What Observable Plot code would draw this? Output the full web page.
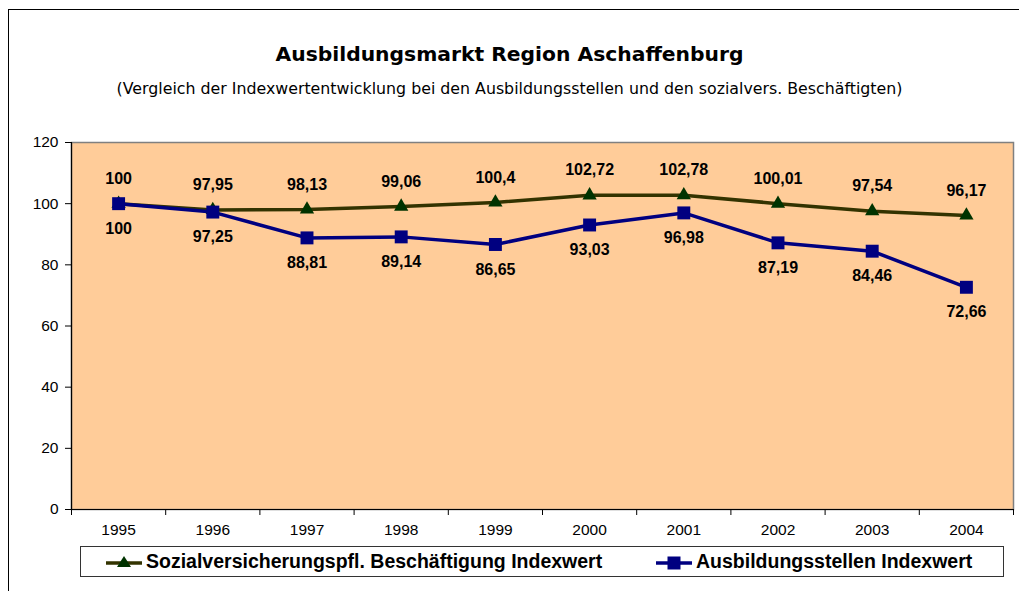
<!DOCTYPE html>
<html>
<head>
<meta charset="utf-8">
<script src="https://cdn.jsdelivr.net/npm/d3@7"></script>
<script src="https://cdn.jsdelivr.net/npm/@observablehq/plot@0.6"></script>
<style>
  html, body { margin: 0; padding: 0; background: #fff; }
  #page { position: relative; width: 1019px; height: 591px; overflow: hidden; }
  #frame { position: absolute; left: 8px; top: 9px; width: 1020px; height: 600px; border-left: 1.5px solid #000; border-top: 1.5px solid #000; }
  #title { position: absolute; left: 0; width: 1019px; top: 42px; text-align: center; font-family: "Comic Sans MS", "DejaVu Sans", sans-serif; font-weight: bold; font-size: 20.3px; color: #000; }
  #subtitle { position: absolute; left: 0; width: 1019px; top: 79px; text-align: center; font-family: "Comic Sans MS", "DejaVu Sans", sans-serif; font-size: 15.8px; color: #000; }
  #chart { position: absolute; left: 0; top: 0; }
  #legend { position: absolute; left: 80px; top: 546px; width: 922px; height: 29px; border: 1px solid #333; background: #fff; font-family: "Liberation Sans", Arial, sans-serif; font-weight: bold; font-size: 19.5px; }
  .item { position: absolute; top: 3px; display: flex; align-items: center; }
  .item svg { margin-right: 3px; }
</style>
</head>
<body>
<div id="page">
  <div id="frame"></div>
  <div id="chart"></div>
  <div id="title">Ausbildungsmarkt Region Aschaffenburg</div>
  <div id="subtitle">(Vergleich der Indexwertentwicklung bei den Ausbildungsstellen und den sozialvers. Beschäftigten)</div>
  <div id="legend">
    <div class="item" style="left:24px"><svg width="38" height="22"><line x1="1" y1="12" x2="37" y2="12" stroke="#333300" stroke-width="3.5"/><path d="M19,5 L26,16 L12,16 Z" fill="#003300"/></svg><span id="lg1"></span></div>
    <div class="item" style="left:574px"><svg width="38" height="22"><line x1="1" y1="12" x2="37" y2="12" stroke="#000080" stroke-width="3.5"/><rect x="12.5" y="5.5" width="13" height="13" fill="#000080"/></svg><span id="lg2"></span></div>
  </div>
</div>
<script>
const years = [1995, 1996, 1997, 1998, 1999, 2000, 2001, 2002, 2003, 2004];
const sozial = [100, 97.95, 98.13, 99.06, 100.4, 102.72, 102.78, 100.01, 97.54, 96.17];
const ausbildung = [100, 97.25, 88.81, 89.14, 86.65, 93.03, 96.98, 87.19, 84.46, 72.66];
const seriesNames = ["Sozialversicherungspfl. Beschäftigung Indexwert", "Ausbildungsstellen Indexwert"];
const yTicks = [0, 20, 40, 60, 80, 100, 120];
const boundaries = [1994.5, 1995.5, 1996.5, 1997.5, 1998.5, 1999.5, 2000.5, 2001.5, 2002.5, 2003.5, 2004.5];

document.getElementById("lg1").textContent = seriesNames[0];
document.getElementById("lg2").textContent = seriesNames[1];

const dataS = years.map((y, i) => ({year: y, value: sozial[i]}));
const dataA = years.map((y, i) => ({year: y, value: ausbildung[i]}));
const fmt = v => String(v).replace(".", ",");

const chart = Plot.plot({
  width: 1019,
  height: 591,
  marginLeft: 71,
  marginRight: 6,
  marginTop: 142,
  marginBottom: 82,
  style: {fontFamily: "'Liberation Sans', Arial, sans-serif", fontSize: "15.5px", color: "#000", background: "transparent", overflow: "visible"},
  x: {domain: [1994.5, 2004.5]},
  y: {domain: [0, 120]},
  marks: [
    Plot.frame({fill: "#FFCC99", stroke: "#808080", strokeWidth: 1.5}),
    Plot.axisY({ticks: yTicks, tickSize: 6, tickPadding: 7, fontSize: 15.5, label: null, stroke: "#000"}),
    Plot.axisX({ticks: boundaries, tickSize: 6, tickFormat: () => "", label: null, stroke: "#000"}),
    Plot.axisX({ticks: years, tickSize: 0, tickPadding: 14, tickFormat: d => String(d), fontSize: 15.5, label: null}),
    Plot.ruleX([1994.5], {stroke: "#000", strokeWidth: 1.2}),
    Plot.ruleY([0], {stroke: "#000", strokeWidth: 1.2}),
    Plot.line(dataS, {x: "year", y: "value", stroke: "#333300", strokeWidth: 3.5}),
    Plot.line(dataA, {x: "year", y: "value", stroke: "#000080", strokeWidth: 3.5}),
    Plot.dot(dataS, {x: "year", y: "value", symbol: "triangle", r: 5.3, fill: "#003300", stroke: null}),
    Plot.dot(dataA, {x: "year", y: "value", symbol: "square", r: 7.3, fill: "#000080", stroke: null}),
    Plot.text(dataS, {x: "year", y: "value", text: d => fmt(d.value), dy: -25, fontSize: 16, fontWeight: "bold", fill: "#000"}),
    Plot.text(dataA, {x: "year", y: "value", text: d => fmt(d.value), dy: 25, fontSize: 16, fontWeight: "bold", fill: "#000"})
  ]
});
document.getElementById("chart").appendChild(chart);
</script>
</body>
</html>
